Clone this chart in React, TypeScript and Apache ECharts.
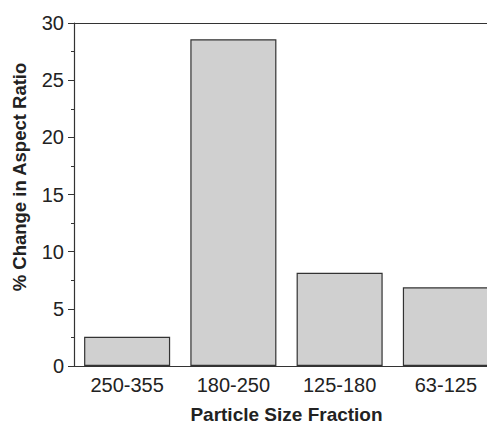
import React, { useEffect, useRef } from "react";
import * as echarts from "echarts";

const categories = ["250-355", "180-250", "125-180", "63-125"];
const values = [2.56, 28.58, 8.16, 6.88];
const yTicks = { min: 0, max: 30, interval: 5 };
const xTitle = "Particle Size Fraction";
const yTitle = "% Change in Aspect Ratio";

export default function App() {
  const ref = useRef<HTMLDivElement>(null);
  useEffect(() => {
    if (!ref.current) return;
    const chart = echarts.init(ref.current, null, { renderer: "svg" });
    const font = "Liberation Sans, Arial, Helvetica, sans-serif";
    chart.setOption({
      animation: false,
      backgroundColor: "#ffffff",
      grid: {
        left: 74,
        top: 23,
        bottom: 59,
        right: 0,
        containLabel: false,
        outerBoundsMode: "none",
      },
      xAxis: [
        {
          type: "category",
          data: categories,
          axisLine: { show: true, lineStyle: { color: "#333333", width: 1.2 } },
          axisTick: { show: false },
          axisLabel: { color: "#222222", fontSize: 20, fontFamily: font, margin: 9 },
          name: xTitle,
          nameLocation: "middle",
          nameGap: 39,
          nameTextStyle: { fontSize: 19, fontWeight: "bold", color: "#222222", fontFamily: font },
        },
        {
          type: "category",
          position: "top",
          data: categories,
          axisLine: { show: true, lineStyle: { color: "#333333", width: 1.2 } },
          axisTick: { show: false },
          axisLabel: { show: false },
        },
      ],
      yAxis: {
        type: "value",
        min: yTicks.min,
        max: yTicks.max,
        interval: yTicks.interval,
        axisLine: { show: true, lineStyle: { color: "#333333", width: 1.2 } },
        axisTick: { show: true, length: 6, lineStyle: { color: "#333333" } },
        minorTick: { show: true, splitNumber: 2, length: 3, lineStyle: { color: "#333333" } },
        splitLine: { show: false },
        axisLabel: { color: "#222222", fontSize: 20, fontFamily: font, margin: 10 },
      },
      graphic: [
        {
          type: "text",
          x: 19,
          y: 177,
          rotation: Math.PI / 2,
          style: {
            text: yTitle,
            fontSize: 18.5,
            fontWeight: "bold",
            fontFamily: font,
            fill: "#222222",
            textAlign: "center",
            textVerticalAlign: "middle",
          },
        },
      ],
      series: [
        {
          type: "bar",
          data: values,
          barCategoryGap: "19%",
          itemStyle: { color: "#d0d0d0", borderColor: "#333333", borderWidth: 1.2 },
        },
      ],
    });
    return () => chart.dispose();
  }, []);
  return (
    <div
      style={{ position: "absolute", left: 0, top: 0, width: 487, height: 425, overflow: "hidden" }}
    >
      <div ref={ref} style={{ width: 499, height: 425 }} />
    </div>
  );
}
